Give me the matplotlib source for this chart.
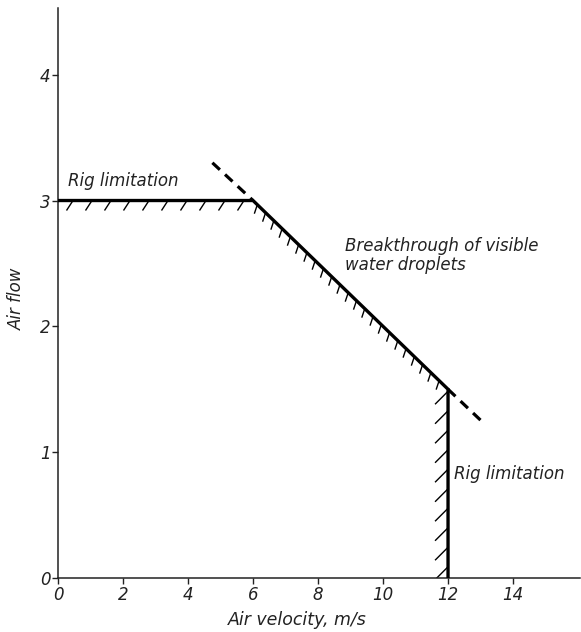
import numpy as np
import matplotlib
matplotlib.use("Agg")
import matplotlib.pyplot as plt

# ---- data ----
x_ticks = [0, 2, 4, 6, 8, 10, 12, 14]
y_ticks = [0, 1, 2, 3, 4]
boundary_x = [0, 6, 12, 12]
boundary_y = [3.0, 3.0, 1.5, 0.0]
dash_upper_x = [4.75, 6.0]
dash_upper_y = [3.30, 3.0]
dash_lower_x = [12.0, 13.1]
dash_lower_y = [1.5, 1.23]
label_rig = "Rig limitation"
label_break = "Breakthrough of visible\nwater droplets"
xlabel = "Air velocity, m/s"
ylabel = "Air flow"

plt.rcParams['font.family'] = ['DejaVu Sans']
fig = plt.figure(figsize=(5.81, 6.32), dpi=100)
fig.patch.set_facecolor('white')
ax = fig.add_axes([58/581, 54/632, 522/581, 570/632])
ax.set_xlim(0, 16.06)
ax.set_ylim(0, 4.53)

for s in ['top', 'right']:
    ax.spines[s].set_visible(False)
for s in ['left', 'bottom']:
    ax.spines[s].set_linewidth(1.1)
    ax.spines[s].set_color('#222222')

ax.set_xticks(x_ticks)
ax.set_yticks(y_ticks)
ax.set_xticklabels([str(v) for v in x_ticks], fontstyle='italic', fontsize=12)
ax.set_yticklabels([str(v) for v in y_ticks], fontstyle='italic', fontsize=12)
ax.tick_params(axis='both', direction='out', length=4.5, width=1.0, color='#222222', labelcolor='#222222')
ax.tick_params(axis='x', pad=1.5)
ax.tick_params(axis='y', pad=1.0)

ax.set_xlabel(xlabel, fontstyle='italic', fontsize=12.5, color='#222222', va='center')
ax.xaxis.set_label_coords(0.458, -0.074)
ax.set_ylabel(ylabel, fontstyle='italic', fontsize=12, color='#222222', va='center')
ax.yaxis.set_label_coords(-0.0785, 0.489)

# main boundary
ax.plot(boundary_x, boundary_y, color='black', lw=2.4, solid_joinstyle='miter', zorder=3)
ax.plot(dash_upper_x, dash_upper_y, color='black', lw=2.3, dashes=(3.2, 2.2), zorder=3)
ax.plot(dash_lower_x, dash_lower_y, color='black', lw=2.3, dashes=(3.2, 2.2), zorder=3)

# hatching (pixel offsets)
trans = ax.transData
inv = trans.inverted()

def hatch(p0, p1, step_px, dx_px, dy_px, start_px, end_trim_px=0):
    a = trans.transform(p0)
    b = trans.transform(p1)
    L = np.hypot(*(b - a))
    u = (b - a) / L
    for d in np.arange(start_px, L - end_trim_px, step_px):
        base = a + u * d
        tip = base + np.array([dx_px, dy_px])
        pts = inv.transform([base, tip])
        ax.plot(pts[:, 0], pts[:, 1], color='black', lw=1.0, solid_capstyle='butt', zorder=2)

# horizontal segment: '/' strokes below
hatch((boundary_x[0], boundary_y[0]), (boundary_x[1], boundary_y[1]), 19.0, -6.5, -10.0, 15.0, 2)
# diagonal segment: short near-vertical strokes below
hatch((boundary_x[1], boundary_y[1]), (boundary_x[2], boundary_y[2]), 11.5, -3.0, -9.0, 6.0, 6)
# vertical segment: '/' strokes to the left
hatch((boundary_x[2], boundary_y[2]), (boundary_x[3], boundary_y[3]), 19.5, -13.0, -13.0, 2.0, 5)

ax.text(0.31, 3.08, label_rig, fontstyle='italic', fontsize=12, color='#222222',
        ha='left', va='bottom')
ax.text(8.83, 2.71, label_break, fontstyle='italic', fontsize=12, color='#222222',
        ha='left', va='top', linespacing=1.1)
ax.text(12.18, 0.83, label_rig, fontstyle='italic', fontsize=12, color='#222222',
        ha='left', va='center')

fig.savefig('out.png', dpi=100, facecolor='white')
